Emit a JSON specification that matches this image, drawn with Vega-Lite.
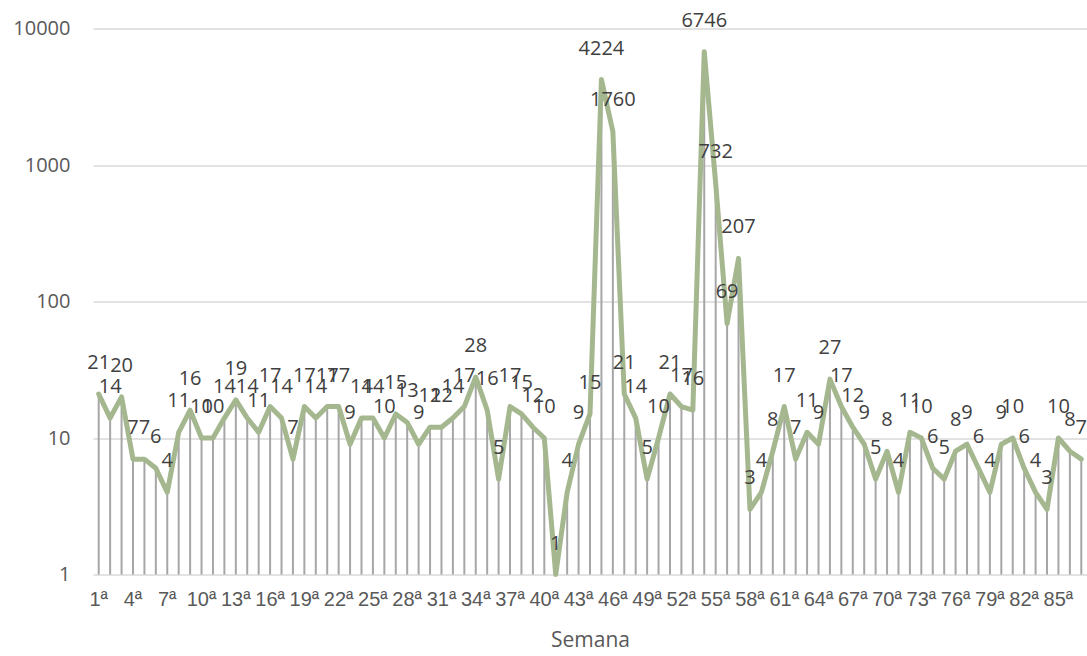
{
  "$schema": "https://vega.github.io/schema/vega-lite/v6.json",
  "width": 994,
  "height": 546,
  "autosize": {"type": "none"},
  "padding": {"left": 93, "top": 28.5, "right": 0, "bottom": 81.5},
  "background": "white",
  "config": {
    "view": {"stroke": null},
    "font": "Open Sans",
    "axis": {
      "labelFont": "Open Sans",
      "labelFontSize": 20,
      "labelColor": "#595959",
      "titleFont": "Open Sans",
      "titleFontSize": 21,
      "titleFontWeight": "normal",
      "titleColor": "#595959",
      "ticks": false,
      "domain": false
    }
  },
  "data": {
    "values": [
      {"semana": "1ª", "casos": 21}, {"semana": "2ª", "casos": 14}, {"semana": "3ª", "casos": 20},
      {"semana": "4ª", "casos": 7}, {"semana": "5ª", "casos": 7}, {"semana": "6ª", "casos": 6},
      {"semana": "7ª", "casos": 4}, {"semana": "8ª", "casos": 11}, {"semana": "9ª", "casos": 16},
      {"semana": "10ª", "casos": 10}, {"semana": "11ª", "casos": 10}, {"semana": "12ª", "casos": 14},
      {"semana": "13ª", "casos": 19}, {"semana": "14ª", "casos": 14}, {"semana": "15ª", "casos": 11},
      {"semana": "16ª", "casos": 17}, {"semana": "17ª", "casos": 14}, {"semana": "18ª", "casos": 7},
      {"semana": "19ª", "casos": 17}, {"semana": "20ª", "casos": 14}, {"semana": "21ª", "casos": 17},
      {"semana": "22ª", "casos": 17}, {"semana": "23ª", "casos": 9}, {"semana": "24ª", "casos": 14},
      {"semana": "25ª", "casos": 14}, {"semana": "26ª", "casos": 10}, {"semana": "27ª", "casos": 15},
      {"semana": "28ª", "casos": 13}, {"semana": "29ª", "casos": 9}, {"semana": "30ª", "casos": 12},
      {"semana": "31ª", "casos": 12}, {"semana": "32ª", "casos": 14}, {"semana": "33ª", "casos": 17},
      {"semana": "34ª", "casos": 28}, {"semana": "35ª", "casos": 16}, {"semana": "36ª", "casos": 5},
      {"semana": "37ª", "casos": 17}, {"semana": "38ª", "casos": 15}, {"semana": "39ª", "casos": 12},
      {"semana": "40ª", "casos": 10}, {"semana": "41ª", "casos": 1}, {"semana": "42ª", "casos": 4},
      {"semana": "43ª", "casos": 9}, {"semana": "44ª", "casos": 15}, {"semana": "45ª", "casos": 4224},
      {"semana": "46ª", "casos": 1760}, {"semana": "47ª", "casos": 21}, {"semana": "48ª", "casos": 14},
      {"semana": "49ª", "casos": 5}, {"semana": "50ª", "casos": 10}, {"semana": "51ª", "casos": 21},
      {"semana": "52ª", "casos": 17}, {"semana": "53ª", "casos": 16}, {"semana": "54ª", "casos": 6746},
      {"semana": "55ª", "casos": 732}, {"semana": "56ª", "casos": 69}, {"semana": "57ª", "casos": 207},
      {"semana": "58ª", "casos": 3}, {"semana": "59ª", "casos": 4}, {"semana": "60ª", "casos": 8},
      {"semana": "61ª", "casos": 17}, {"semana": "62ª", "casos": 7}, {"semana": "63ª", "casos": 11},
      {"semana": "64ª", "casos": 9}, {"semana": "65ª", "casos": 27}, {"semana": "66ª", "casos": 17},
      {"semana": "67ª", "casos": 12}, {"semana": "68ª", "casos": 9}, {"semana": "69ª", "casos": 5},
      {"semana": "70ª", "casos": 8}, {"semana": "71ª", "casos": 4}, {"semana": "72ª", "casos": 11},
      {"semana": "73ª", "casos": 10}, {"semana": "74ª", "casos": 6}, {"semana": "75ª", "casos": 5},
      {"semana": "76ª", "casos": 8}, {"semana": "77ª", "casos": 9}, {"semana": "78ª", "casos": 6},
      {"semana": "79ª", "casos": 4}, {"semana": "80ª", "casos": 9}, {"semana": "81ª", "casos": 10},
      {"semana": "82ª", "casos": 6}, {"semana": "83ª", "casos": 4}, {"semana": "84ª", "casos": 3},
      {"semana": "85ª", "casos": 10}, {"semana": "86ª", "casos": 8}, {"semana": "87ª", "casos": 7}
    ]
  },
  "encoding": {
    "x": {
      "field": "semana",
      "type": "nominal",
      "sort": null,
      "scale": {"paddingInner": 0, "paddingOuter": 0},
      "axis": {
        "title": "Semana",
        "labelAngle": 0,
        "labelFont": "Liberation Sans",
        "labelFontSize": 20,
        "labelPadding": 15,
        "titlePadding": 20,
        "grid": false,
        "values": ["1ª", "4ª", "7ª", "10ª", "13ª", "16ª", "19ª", "22ª", "25ª", "28ª", "31ª", "34ª", "37ª", "40ª", "43ª", "46ª", "49ª", "52ª", "55ª", "58ª", "61ª", "64ª", "67ª", "70ª", "73ª", "76ª", "79ª", "82ª", "85ª"]
      }
    },
    "y": {
      "field": "casos",
      "type": "quantitative",
      "scale": {"type": "log", "domain": [1, 10000], "nice": false},
      "axis": {
        "title": null,
        "values": [1, 10, 100, 1000, 10000],
        "format": "d",
        "labelPadding": 23,
        "grid": true,
        "gridColor": "#d9d9d9",
        "gridWidth": 1.5
      }
    }
  },
  "layer": [
    {
      "mark": {"type": "rule", "color": "#a6a6a6", "strokeWidth": 2},
      "encoding": {"y2": {"datum": 1}}
    },
    {
      "mark": {"type": "line", "color": "#a5b78f", "strokeWidth": 5, "strokeJoin": "round", "strokeCap": "round"}
    },
    {
      "mark": {"type": "text", "font": "Open Sans", "fontSize": 20, "color": "#404040", "baseline": "middle", "align": "center", "dy": -31},
      "encoding": {"text": {"field": "casos", "type": "quantitative"}}
    }
  ]
}
